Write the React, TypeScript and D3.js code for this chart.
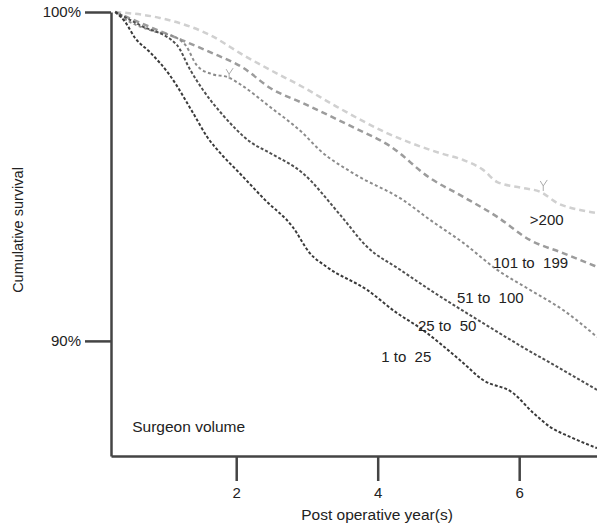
import React, { useEffect, useRef } from "react";
import * as d3 from "d3";

// survival curves, [years, cumulative survival %]
const vol1to25: [number, number][] = [
  [0.29, 100], [0.43, 99.7], [0.57, 99.21], [0.78, 98.78], [1.06, 98.08], [1.39, 96.93],
  [1.59, 96.2], [1.8, 95.65], [2.03, 95.14], [2.41, 94.28], [2.8, 93.46], [3.04, 92.67],
  [3.28, 92.25], [3.85, 91.55], [4.27, 90.85], [4.6, 90.39], [5.16, 89.42], [5.49, 88.81],
  [5.91, 88.42], [6.2, 87.81], [6.44, 87.38], [6.72, 87.08], [7.1, 86.74],
];
const vol25to50: [number, number][] = [
  [0.29, 100], [0.64, 99.6], [1.16, 99.0], [1.35, 98.24], [1.53, 97.63], [1.81, 96.87],
  [2.2, 96.05], [2.48, 95.71], [2.94, 95.1], [3.47, 93.83], [3.85, 92.86], [4.32, 92.16],
  [4.74, 91.55], [5.49, 90.54], [6.05, 89.81], [6.54, 89.21], [7.1, 88.51],
];
const vol51to100: [number, number][] = [
  [0.29, 100], [0.4, 99.82], [0.78, 99.45], [1.16, 99.21], [1.28, 99.0], [1.45, 98.36],
  [1.66, 98.11], [1.88, 98.02], [2.05, 97.81], [2.48, 97.11], [2.94, 96.32], [3.18, 95.8],
  [3.65, 95.1], [4.36, 94.28], [4.74, 93.68], [5.21, 92.98], [5.69, 92.16], [6.2, 91.49],
  [6.62, 90.94], [7.1, 90.12],
];
const vol101to199: [number, number][] = [
  [0.29, 100], [0.82, 99.51], [1.16, 99.21], [1.63, 98.78], [2.1, 98.3], [2.48, 97.69],
  [2.94, 97.23], [3.65, 96.5], [4.17, 95.93], [4.74, 94.95], [5.21, 94.38], [5.69, 93.77],
  [6.15, 93.07], [6.62, 92.67], [7.1, 92.25],
];
const volOver200: [number, number][] = [
  [0.29, 100], [0.92, 99.82], [1.63, 99.3], [2.1, 98.69], [2.48, 98.24], [2.94, 97.72],
  [3.43, 97.11], [4.13, 96.32], [4.88, 95.71], [5.21, 95.5], [5.49, 95.2], [5.69, 94.83],
  [6.05, 94.65], [6.3, 94.53], [6.54, 94.19], [6.86, 93.98], [7.1, 93.89],
];

const seriesNames = ["1 to  25", "25 to  50", "51 to  100", "101 to  199", ">200"];
const seriesData = [vol1to25, vol25to50, vol51to100, vol101to199, volOver200];
// where each group name is written, [years, %]
const labelAnchors: [number, number][] = [
  [4.05, 89.36], [4.57, 90.3], [5.12, 91.15], [5.63, 92.22], [6.15, 93.52],
];
// censored marks
const censorPoints: [number, number][] = [[1.9, 98.05], [6.34, 94.65]];

const xTicks = [2, 4, 6];
const yTicks = [90, 100];

const colors = ["#3a3a3a", "#505050", "#8c8c8c", "#9c9c9c", "#d0d0d0"];
const dashes = ["3,2", "3,2", "3,2.5", "6,4", "6,4"];
const widths = [2, 2, 2, 2.5, 2.5];

const App = () => {
  const svgRef = useRef<SVGSVGElement>(null);

  useEffect(() => {
    const svg = d3.select(svgRef.current);
    svg.selectAll("*").remove();
    const font = "'Liberation Sans', Arial, sans-serif";

    const x = d3.scaleLinear().domain([0.23, 7.1]).range([111, 597]);
    const y = d3.scaleLinear().domain([86.5, 100]).range([456, 12]);

    const line = d3
      .line<[number, number]>()
      .x((d) => x(d[0]))
      .y((d) => y(d[1]))
      .curve(d3.curveMonotoneX);

    // curves, lightest first so darker ones sit on top
    const order = [4, 3, 2, 1, 0];
    svg
      .append("g")
      .selectAll("path")
      .data(order)
      .enter()
      .append("path")
      .attr("d", (i) => line(seriesData[i]))
      .attr("fill", "none")
      .attr("stroke", (i) => colors[i])
      .attr("stroke-width", (i) => widths[i])
      .attr("stroke-dasharray", (i) => dashes[i]);

    // little censor ticks
    svg
      .append("g")
      .selectAll("path")
      .data(censorPoints)
      .enter()
      .append("path")
      .attr("d", (d) => {
        const cx = x(d[0]);
        const cy = y(d[1]);
        return `M${cx},${cy + 3}L${cx},${cy - 2}L${cx - 3},${cy - 7}M${cx},${cy - 2}L${cx + 4},${cy - 8}`;
      })
      .attr("fill", "none")
      .attr("stroke", "#aaa")
      .attr("stroke-width", 1);

    // axes
    const gx = svg
      .append("g")
      .attr("transform", `translate(0,${y(86.5)})`)
      .call(
        d3
          .axisBottom(x)
          .tickValues(xTicks)
          .tickSize(25)
          .tickSizeOuter(0)
          .tickPadding(6)
          .tickFormat(d3.format("d"))
      );
    const gy = svg
      .append("g")
      .attr("transform", `translate(${x(0.23)},0)`)
      .call(
        d3
          .axisLeft(y)
          .tickValues(yTicks)
          .tickSize(26)
          .tickSizeOuter(0)
          .tickPadding(4)
          .tickFormat((d) => `${d}%`)
      );
    [gx, gy].forEach((g) => {
      g.select(".domain").attr("stroke", "#444").attr("stroke-width", 2.5);
      g.selectAll(".tick line").attr("stroke", "#444").attr("stroke-width", 2.5);
      g.selectAll(".tick text")
        .attr("font-family", font)
        .attr("font-size", 15)
        .attr("fill", "#222");
    });

    // series labels
    svg
      .append("g")
      .selectAll("text")
      .data(seriesNames)
      .enter()
      .append("text")
      .attr("x", (d, i) => x(labelAnchors[i][0]))
      .attr("y", (d, i) => y(labelAnchors[i][1]))
      .style("white-space", "pre")
      .attr("font-family", font)
      .attr("font-size", 15)
      .attr("fill", "#222")
      .text((d) => d);

    svg
      .append("text")
      .attr("x", x(0.53))
      .attr("y", y(87.23))
      .attr("font-family", font)
      .attr("font-size", 15.5)
      .attr("fill", "#222")
      .text("Surgeon volume");

    svg
      .append("text")
      .attr("x", 377)
      .attr("y", 520)
      .attr("text-anchor", "middle")
      .attr("font-family", font)
      .attr("font-size", 15.5)
      .attr("fill", "#222")
      .text("Post operative year(s)");

    svg
      .append("text")
      .attr("transform", "translate(23,230) rotate(-90)")
      .attr("text-anchor", "middle")
      .attr("font-family", font)
      .attr("font-size", 14.5)
      .attr("fill", "#222")
      .text("Cumulative survival");
  }, []);

  return (
    <svg
      ref={svgRef}
      width={597}
      height={527}
      style={{ position: "absolute", left: 0, top: 0, background: "#fff" }}
    ></svg>
  );
};

export default App;
